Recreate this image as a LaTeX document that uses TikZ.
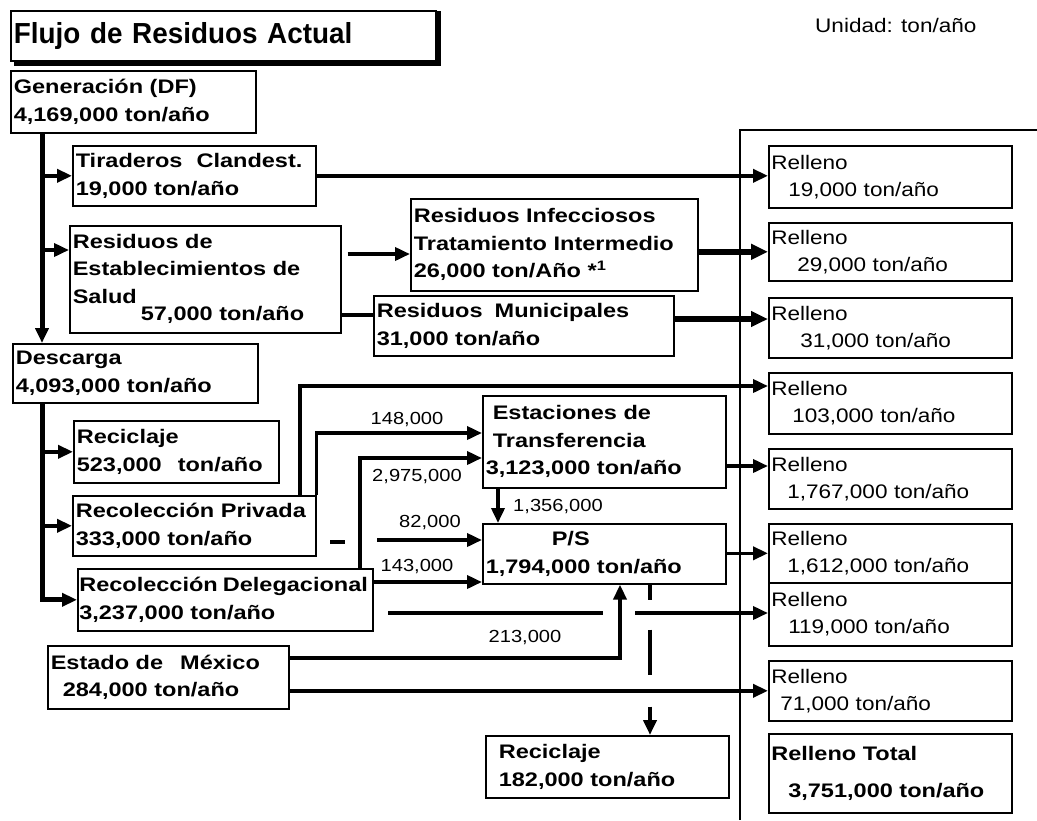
\documentclass[tikz,border=0pt]{standalone}
\usepackage{fontspec}
\setmainfont{Liberation Sans}[FakeStretch=1.15, BoldFeatures={FakeStretch=1.2}]
\newfontfamily\titlefam{Liberation Sans}[FakeStretch=0.96]
\usetikzlibrary{arrows.meta}
\newcommand\myBold{\bfseries\fontsize{19.6}{27.5}\selectfont}
\newcommand\myReg{\fontsize{19.6}{27}\selectfont}
\newcommand\myLbl{\fontsize{17.5}{18}\selectfont}
\newcommand\myTitle{\titlefam\bfseries\fontsize{29}{30}\selectfont}
\begin{document}
\begin{tikzpicture}[x=1pt,y=-1pt,
  box/.style={draw, line width=1.6pt, anchor=north west, align=left,
    inner xsep=3pt, inner ysep=0pt, font=\myBold},
  rbox/.style={box, inner xsep=2.5pt, font=\myReg},
  lbl/.style={inner sep=0pt, font=\myLbl},
  tip/.style={-{Triangle[length=15pt,width=13pt]}},
  conn/.style={line width=3.6pt, tip},
  trunk/.style={line width=5pt, tip},
  heavy/.style={line width=6pt, -{Triangle[length=17pt,width=15pt]}},
  plain/.style={line width=3.4pt}]
\useasboundingbox (0,0) rectangle (1037,820);

% title
\node[box, line width=1.8pt, font=\myTitle, text width=419pt, minimum height=50pt] (title) at (10,10) {Flujo de Residuos Actual};
\draw[line width=4.5pt] ([xshift=2pt,yshift=-1pt]title.north east) -- ([xshift=2pt,yshift=-2pt]title.south east) -- ([xshift=4pt,yshift=-2pt]title.south west);
\node[anchor=base west, inner sep=0pt, font=\myReg] (unit) at (815,32) {Unidad: ton/año};

% left column boxes
\node[box, text width=239pt, minimum height=62pt] (gen) at (10,70) {Generación (DF)\\4,169,000 ton/año};
\node[box, text width=237pt, minimum height=60pt] (tir) at (72,145) {Tiraderos\hspace{14pt}Clandest.\\19,000 ton/año};
\node[box, text width=265pt, minimum height=107pt] (res) at (69,225) {Residuos de\\Establecimientos de\\Salud\hspace{4pt}\raisebox{-17pt}[0pt][21pt]{57,000 ton/año}};
\node[box, text width=281pt, minimum height=92pt] (inf) at (410,198) {Residuos Infecciosos\\Tratamiento Intermedio\\26,000 ton/Año *\textsuperscript{1}};
\node[box, text width=294pt, minimum height=60pt] (mun) at (373,295) {Residuos\hspace{12pt}Municipales\\31,000 ton/año};
\node[box, text width=239pt, minimum height=59pt] (des) at (12,343) {Descarga\\4,093,000 ton/año};
\node[box, text width=199pt, minimum height=62pt] (rec) at (73,420) {Reciclaje\\523,000\hspace{16pt}ton/año};
\node[box, text width=237pt, minimum height=60pt] (priv) at (72,495) {Recolección Privada\\333,000 ton/año};
\node[box, inner xsep=1.5pt, text width=292pt, minimum height=62pt] (del) at (77,568) {\mbox{Recolección\hspace{5pt}Delegacional}\\3,237,000 ton/año};
\node[box, text width=235pt, minimum height=63pt] (edo) at (47,645) {Estado de\hspace{17pt}México\\\hspace*{12pt}284,000 ton/año};
\node[box, text width=237pt, minimum height=92pt] (est) at (482,395) {\hspace*{7pt}Estaciones de\\\hspace*{7pt}Transferencia\\3,123,000 ton/año};
\node[box, text width=237pt, minimum height=60pt] (ps) at (482,523) {\hspace*{66pt}P/S\\1,794,000 ton/año};
\node[box, text width=237pt, minimum height=62pt] (rec2) at (485,735) {\hspace*{10pt}Reciclaje\\\hspace*{10pt}182,000 ton/año};

% relleno column
\draw[line width=2.5pt] (740,820) -- (740,130) -- (1037,130);
\node[rbox, text width=238pt, minimum height=62pt] (r1) at (768,145) {Relleno\\\hspace*{17pt}19,000 ton/año};
\node[rbox, text width=238pt, minimum height=58pt] (r2) at (768,222) {Relleno\\\hspace*{26pt}29,000 ton/año};
\node[rbox, text width=238pt, minimum height=60pt] (r3) at (768,297) {Relleno\\\hspace*{29pt}31,000 ton/año};
\node[rbox, text width=238pt, minimum height=61pt] (r4) at (768,372) {Relleno\\\hspace*{21pt}103,000 ton/año};
\node[rbox, text width=238pt, minimum height=60pt] (r5) at (768,448) {Relleno\\\hspace*{16pt}1,767,000 ton/año};
\node[rbox, text width=238pt, minimum height=59pt] (r6) at (768,523) {Relleno\\\hspace*{16pt}1,612,000 ton/año};
\node[rbox, text width=238pt, minimum height=63pt] (r7) at (768,582) {Relleno\\\hspace*{17pt}119,000 ton/año};
\node[rbox, text width=238pt, minimum height=60pt] (r8) at (768,660) {Relleno\\\hspace*{9pt}71,000 ton/año};
\node[box, inner xsep=2.5pt, text width=238pt, minimum height=79pt, font=\bfseries\fontsize{19.6}{37}\selectfont] (r9) at (768,733) {Relleno Total\\\hspace*{17pt}3,751,000 ton/año};

% helper coordinates
\coordinate (tr) at (42,0);
\coordinate (yres) at (0,250);
\coordinate (yinf) at (0,254);
\coordinate (ymun) at (0,315);
\coordinate (ymr) at (0,319);
\coordinate (c103) at (300,386);
\coordinate (y148) at (0,433);
\coordinate (c2975) at (360,458);
\coordinate (x1356) at (498,0);
\coordinate (s82) at (377,540);
\coordinate (y143) at (0,582);
\coordinate (y466) at (0,466);
\coordinate (s213) at (388,613);
\coordinate (g213a) at (603,613);
\coordinate (g213b) at (635,613);
\coordinate (c620) at (620,658);
\coordinate (xd) at (650,0);

% trunk and branches
\draw[trunk] (tr |- gen.south) -- (tr |- des.north);
\draw[conn] (tr |- tir.west) -- (tir.west);
\draw[conn] (tr |- yres) -- (res.west |- yres);
\draw[trunk] (tr |- des.south) |- (del.west);
\draw[conn] (tr |- rec.west) -- (rec.west);
\draw[conn] (tr |- priv.west) -- (priv.west);

% upper flows
\draw[conn] (tir.east) -- (tir.east -| r1.west);
\draw[conn, shorten <=6pt] (res.east |- yinf) -- (inf.west |- yinf);
\draw[plain] (res.east |- ymun) -- (mun.west |- ymun);
\draw[heavy] (inf.east |- r2.west) -- (r2.west);
\draw[heavy] (mun.east |- ymr) -- (r3.west |- ymr);

% middle flows
\draw[conn] (priv.north -| c103) |- (r4.west |- c103);
\draw[conn] (priv.north east) |- (est.west |- y148);
\node[lbl] (l148) at (407,420) {148,000};
\draw[conn] (del.north -| c2975) |- (est.west |- c2975);
\node[lbl] (l2975) at (417,477) {2,975,000};
\draw[conn] (est.south -| x1356) -- (ps.north -| x1356);
\node[lbl] (l1356) at (558,507) {1,356,000};
\draw[conn] (s82) -- (ps.west |- s82);
\node[lbl] (l82) at (430,523) {82,000};
\draw[conn] (del.east |- y143) -- (ps.west |- y143);
\node[lbl] (l143) at (417,567) {143,000};
\draw[line width=3.5pt] (330,542) -- (345,542);
\draw[conn] (est.east |- y466) -- (r5.west |- y466);
\draw[conn] (ps.east |- r6.west) -- (r6.west);

% lower flows
\draw[plain] (s213) -- (g213a);
\draw[conn] (g213b) -- (g213b -| r7.west);
\draw[conn] (edo.east |- c620) -| (ps.south -| c620);
\node[lbl] (l213) at (525,638) {213,000};
\draw[conn] (edo.east |- r8.west) -- (r8.west);
\draw[conn, line width=3.8pt, dash pattern=on 15pt off 30pt on 45pt off 32pt on 200pt] (ps.south -| xd) -- (rec2.north -| xd);
\end{tikzpicture}
\end{document}
